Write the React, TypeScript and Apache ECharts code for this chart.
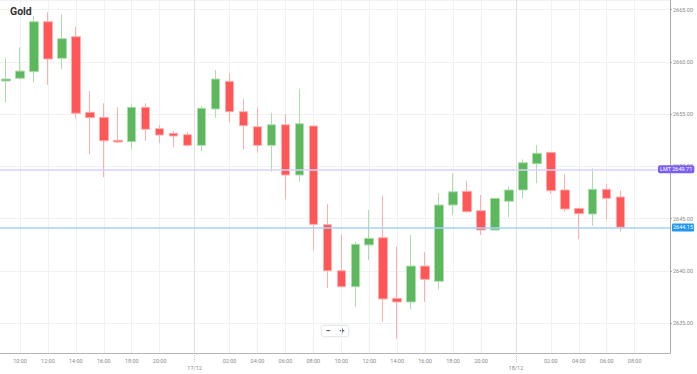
import React, { useEffect, useRef } from "react";
import * as echarts from "echarts";

// Hour label for each slot on the x axis (45 candles + one future slot)
const hours = [
  "09:00", "10:00", "11:00", "12:00", "13:00", "14:00", "15:00", "16:00", "17:00", "18:00",
  "19:00", "20:00", "21:00", "22:00", "00:00", "01:00", "02:00", "03:00", "04:00", "05:00",
  "06:00", "07:00", "08:00", "09:00", "10:00", "11:00", "12:00", "13:00", "14:00", "15:00",
  "16:00", "17:00", "18:00", "19:00", "20:00", "21:00", "22:00", "00:00", "01:00", "02:00",
  "03:00", "04:00", "05:00", "06:00", "07:00", "08:00",
];
const dayLabels = ["17/12", "18/12"];

const opens = [
  2658.16, 2658.42, 2659.05, 2663.83, 2660.33, 2662.4, 2655.16, 2654.68, 2652.48, 2652.35,
  2655.64, 2653.6, 2653.15, 2653.02, 2652.0, 2655.48, 2658.13, 2655.22, 2653.78, 2652.0,
  2653.97, 2649.16, 2653.85, 2644.41, 2640.0, 2638.47, 2642.47, 2643.16, 2637.36, 2637.01,
  2640.45, 2638.99, 2646.29, 2647.6, 2645.75, 2643.9, 2646.65, 2647.73, 2650.24, 2651.33,
  2647.73, 2645.97, 2645.43, 2647.79, 2647.06,
];
const closes = [
  2658.35, 2659.11, 2663.83, 2660.26, 2662.21, 2655.07, 2654.65, 2652.44, 2652.32, 2655.64,
  2653.54, 2652.99, 2652.89, 2652.0, 2655.55, 2658.35, 2655.22, 2653.88, 2652.0, 2653.97,
  2649.16, 2654.07, 2644.44, 2640.0, 2638.47, 2642.53, 2643.1, 2637.3, 2637.01, 2640.45,
  2639.18, 2646.29, 2647.56, 2645.65, 2643.9, 2646.93, 2647.73, 2650.34, 2651.24, 2647.66,
  2645.91, 2645.46, 2647.79, 2646.93, 2644.16,
];
const lows = [
  2656.12, 2658.3, 2658.03, 2657.78, 2659.28, 2654.59, 2651.17, 2648.94, 2652.2, 2651.65,
  2652.44, 2652.2, 2651.81, 2651.9, 2651.46, 2654.65, 2654.23, 2651.62, 2651.3, 2649.48,
  2646.84, 2648.52, 2641.99, 2638.37, 2638.4, 2636.56, 2641.03, 2635.13, 2633.47, 2636.31,
  2637.04, 2638.22, 2645.33, 2645.56, 2643.42, 2643.9, 2645.11, 2646.93, 2648.37, 2647.34,
  2645.65, 2643.01, 2644.31, 2644.92, 2643.74,
];
const highs = [
  2660.39, 2661.38, 2664.38, 2664.73, 2664.54, 2663.35, 2657.2, 2656.02, 2655.64, 2655.93,
  2656.02, 2653.95, 2653.37, 2653.3, 2655.77, 2659.21, 2658.9, 2656.44, 2655.6, 2655.12,
  2655.0, 2657.39, 2653.92, 2646.39, 2643.49, 2642.78, 2645.81, 2647.18, 2642.3, 2643.42,
  2641.8, 2647.41, 2649.33, 2648.59, 2647.25, 2646.95, 2648.04, 2650.66, 2652.03, 2651.35,
  2649.23, 2645.97, 2649.8, 2648.3, 2647.66,
];

const limitPrice = 2649.71;
const lastPrice = 2644.15;

const FONT = "Roboto, 'Noto Sans', sans-serif";

export default function App() {
  const ref = useRef<HTMLDivElement>(null);

  useEffect(() => {
    if (!ref.current) return;
    const chart = echarts.init(ref.current, undefined, { renderer: "svg" });

    const candles = opens.map((o, i) => [i, o, closes[i], lows[i], highs[i]]);

    // label positions: even hours, except the day-change slots
    const hourTicks: number[] = [];
    hours.forEach((h, i) => {
      const hh = parseInt(h.slice(0, 2), 10);
      if (hh % 2 === 0 && h !== "22:00" && h !== "00:00") hourTicks.push(i);
    });
    const dayTicks: number[] = [];
    hours.forEach((h, i) => {
      if (h === "00:00" && i > 0) dayTicks.push(i - 0.5);
    });

    const xMin = -0.43;
    const xMax = 47.53;

    const option: any = {
      animation: false,
      backgroundColor: "#ffffff",
      title: {
        text: "Gold",
        left: 10,
        top: 6,
        padding: 0,
        textStyle: { fontFamily: FONT, fontSize: 10.5, fontWeight: "bold", color: "#333" },
      },
      grid: { left: 0, right: 27, top: 0, bottom: 21 },
      xAxis: [
        {
          type: "value",
          min: xMin,
          max: xMax,
          position: "bottom",
          axisLine: { show: true, onZero: false, lineStyle: { color: "#b5b5b5", width: 1 } },
          axisTick: { show: false, customValues: hourTicks },
          axisLabel: {
            customValues: hourTicks,
            formatter: (v: number) => hours[Math.round(v)] ?? "",
            fontSize: 5.5,
            color: "#8a8a8a",
            fontFamily: FONT,
            margin: 5,
          },
          splitLine: { show: true, lineStyle: { color: "#f1f1f1", width: 1 } },
        },
        {
          type: "value",
          min: xMin,
          max: xMax,
          position: "bottom",
          axisLine: { show: false, onZero: false },
          axisTick: {
            show: true,
            customValues: dayTicks,
            length: 10,
            inside: false,
            lineStyle: { color: "#c4c4c4", type: "dotted", width: 1 },
          },
          axisLabel: {
            customValues: dayTicks,
            formatter: (v: number) => dayLabels[dayTicks.findIndex((d) => Math.abs(d - v) < 0.01)] ?? "",
            fontSize: 5.5,
            color: "#8a8a8a",
            fontFamily: FONT,
            margin: 12,
          },
          splitLine: { show: true, lineStyle: { color: "#e0e0e0", width: 1 } },
        },
      ],
      yAxis: {
        type: "value",
        position: "right",
        min: 2632.13,
        max: 2665.91,
        splitNumber: 7,
        minInterval: 5,
        maxInterval: 5,
        axisLine: { show: true, onZero: false, lineStyle: { color: "#a8a8a8", width: 1 } },
        axisTick: { show: true, length: 2, lineStyle: { color: "#a8a8a8" } },
        axisLabel: {
          formatter: (v: number) => v.toFixed(2),
          fontSize: 5.5,
          color: "#8a8a8a",
          fontFamily: FONT,
          margin: 3,
          showMinLabel: false,
          showMaxLabel: false,
        },
        splitLine: { show: true, lineStyle: { color: "#f1f1f1", width: 1 } },
      },
      series: [
        {
          type: "candlestick",
          xAxisIndex: 0,
          yAxisIndex: 0,
          data: candles,
          barWidth: 9,
          itemStyle: {
            color: "#5cb85c",
            color0: "#ff5757",
            borderColor: "#addcad",
            borderColor0: "#ffadad",
            borderWidth: 1,
          },
          markLine: {
            silent: true,
            symbol: "none",
            animation: false,
            z: 10,
            data: [
              {
                yAxis: limitPrice,
                lineStyle: { color: "#d9d2ff", width: 1.5, type: "solid" },
                label: {
                  show: true,
                  position: "end",
                  distance: -12,
                  formatter: () => "LMT " + limitPrice.toFixed(2),
                  color: "#ffffff",
                  backgroundColor: "#7b5cf5",
                  padding: [1, 2, 1, 2],
                  borderRadius: 2,
                  fontSize: 5.5,
                  fontFamily: FONT,
                },
              },
              {
                yAxis: lastPrice,
                lineStyle: { color: "#a6d3f2", width: 1.5, type: "solid" },
                label: {
                  show: true,
                  position: "end",
                  distance: 2,
                  formatter: () => lastPrice.toFixed(2),
                  color: "#ffffff",
                  backgroundColor: "#2196f3",
                  padding: [1, 1, 1, 1],
                  borderRadius: 1,
                  fontSize: 5.5,
                  fontFamily: FONT,
                },
              },
            ],
          },
        },
      ],
      graphic: [
        {
          type: "group",
          left: 321,
          top: 325,
          children: [
            {
              type: "rect",
              shape: { x: 0, y: 0, width: 27, height: 11, r: 2 },
              style: { fill: "#ffffff", stroke: "#e8e8e8", lineWidth: 1, shadowBlur: 2, shadowColor: "rgba(0,0,0,0.08)" },
            },
            {
              type: "text",
              x: 6.5,
              y: 5.5,
              style: { text: "−", align: "center", verticalAlign: "middle", fontSize: 9, fontWeight: "bold", fill: "#555", fontFamily: FONT },
            },
            {
              type: "text",
              x: 20.5,
              y: 5.5,
              style: { text: "+", align: "center", verticalAlign: "middle", fontSize: 9, fontWeight: "bold", fill: "#555", fontFamily: FONT },
            },
          ],
        },
      ],
    };

    chart.setOption(option);
    return () => chart.dispose();
  }, []);

  return (
    <div
      ref={ref}
      style={{ position: "fixed", left: 0, top: 0, width: 697, height: 374, background: "#fff" }}
    />
  );
}
